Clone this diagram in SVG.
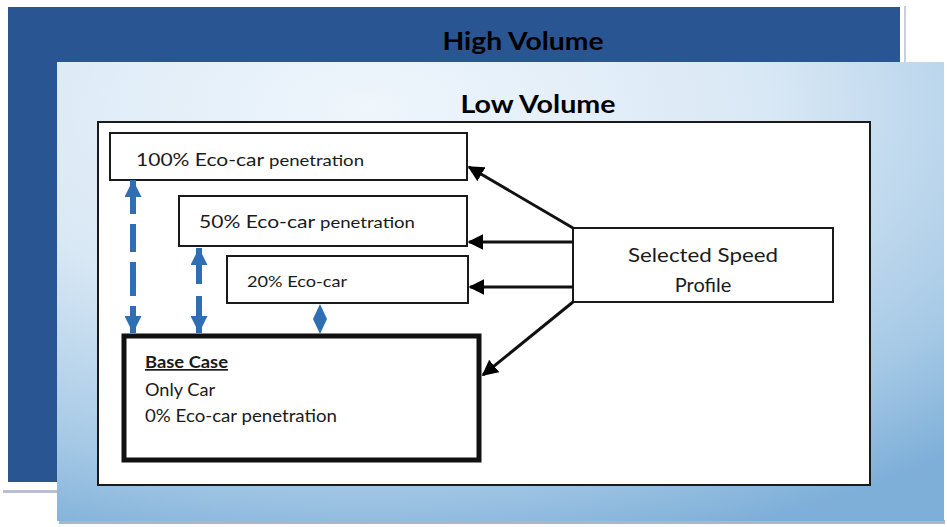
<svg xmlns="http://www.w3.org/2000/svg" width="947" height="527" viewBox="0 0 947 527">
<defs>
<radialGradient id="lowg" cx="0.35" cy="0.1" r="1" fx="0.35" fy="0.1">
<stop offset="0" stop-color="#eff6fc"/>
<stop offset="0.45" stop-color="#d9e8f5"/>
<stop offset="0.8" stop-color="#a6c9e6"/>
<stop offset="1" stop-color="#7eafd8"/>
</radialGradient>
<marker id="ah" viewBox="0 0 10 10" refX="9" refY="5" markerWidth="16" markerHeight="16" markerUnits="userSpaceOnUse" orient="auto">
<path d="M0,0 L10,5 L0,10 z" fill="#000"/>
</marker>
<marker id="bh" viewBox="0 0 10 10" refX="10" refY="5" markerWidth="17" markerHeight="17" markerUnits="userSpaceOnUse" orient="auto-start-reverse">
<path d="M0,0 L10,5 L0,10 z" fill="#2f6eb2"/>
</marker>
</defs>
<style>
.t{font-family:Lato,"Open Sans","Liberation Sans",sans-serif;fill:#1a1a1a}
.h{font-family:Lato,"Open Sans","Liberation Sans",sans-serif;font-weight:bold;font-size:25px;fill:#000}
.box{fill:#fff;stroke:#1a1a1a;stroke-width:2}
.con{stroke:#111;stroke-width:3;fill:none}
.blue{stroke:#2f6eb2;stroke-width:6;fill:none}
</style>
<rect width="947" height="527" fill="#fff"/>
<g id="high-volume">
<rect x="3" y="490" width="56" height="3" fill="#b9bfd0"/>
<rect x="8" y="7" width="892" height="475" fill="#2a5593"/>
<line x1="905" y1="6" x2="905" y2="62" stroke="#c9cfdb" stroke-width="2"/>
<text class="h" x="523" y="50" text-anchor="middle" textLength="161" lengthAdjust="spacingAndGlyphs">High Volume</text>
</g>
<g id="low-volume">
<rect x="59" y="520" width="886" height="4" fill="#a8b8c8"/>
<rect x="57" y="62" width="887" height="459" fill="url(#lowg)"/>
<text class="h" x="538" y="113" text-anchor="middle" textLength="155" lengthAdjust="spacingAndGlyphs">Low Volume</text>
<rect x="98" y="122" width="772" height="363" fill="#fff" stroke="#1a1a1a" stroke-width="2"/>
</g>
<g id="n100">
<rect class="box" x="110" y="133" width="357" height="47"/>
<text class="t" x="136" y="166" font-size="17" textLength="228" lengthAdjust="spacingAndGlyphs">100% Eco-car <tspan font-size="15">penetration</tspan></text>
</g>
<g id="n50">
<rect class="box" x="179" y="196" width="288" height="50"/>
<text class="t" x="199" y="228" font-size="17" textLength="216" lengthAdjust="spacingAndGlyphs">50% Eco-car <tspan font-size="15">penetration</tspan></text>
</g>
<g id="n20">
<rect class="box" x="227" y="256" width="241" height="47"/>
<text class="t" x="247" y="287" font-size="15" textLength="100" lengthAdjust="spacingAndGlyphs">20% Eco-car</text>
</g>
<g id="base">
<rect x="124" y="336" width="355" height="124" fill="#fff" stroke="#111" stroke-width="5"/>
<text class="t" x="145" y="368" font-size="17" font-weight="bold" text-decoration="underline" textLength="83" lengthAdjust="spacingAndGlyphs">Base Case</text>
<text class="t" x="145" y="396" font-size="17" textLength="70" lengthAdjust="spacingAndGlyphs">Only Car</text>
<text class="t" x="145" y="422" font-size="17" textLength="192" lengthAdjust="spacingAndGlyphs">0% Eco-car penetration</text>
</g>
<g id="speed">
<rect class="box" x="573" y="228" width="260" height="74"/>
<text class="t" x="703" y="262" font-size="20" text-anchor="middle" textLength="150" lengthAdjust="spacingAndGlyphs">Selected Speed</text>
<text class="t" x="703" y="292" font-size="20" text-anchor="middle">Profile</text>
</g>
<g id="connectors">
<line class="con" x1="573" y1="228" x2="469" y2="167" marker-end="url(#ah)"/>
<line class="con" x1="573" y1="242" x2="469" y2="242" marker-end="url(#ah)"/>
<line class="con" x1="573" y1="287" x2="470" y2="287" marker-end="url(#ah)"/>
<line class="con" x1="573" y1="302" x2="483" y2="375" marker-end="url(#ah)"/>
<line class="blue" x1="133" y1="180" x2="133" y2="333" stroke-dasharray="34 10 28 10 34 10 28" marker-start="url(#bh)" marker-end="url(#bh)"/>
<line class="blue" x1="199" y1="248" x2="199" y2="333" stroke-dasharray="36 12 40" marker-start="url(#bh)" marker-end="url(#bh)"/>
<path d="M320,304 L327,319 L320,334 L313,319 z" fill="#2f6eb2"/>
</g>
</svg>
